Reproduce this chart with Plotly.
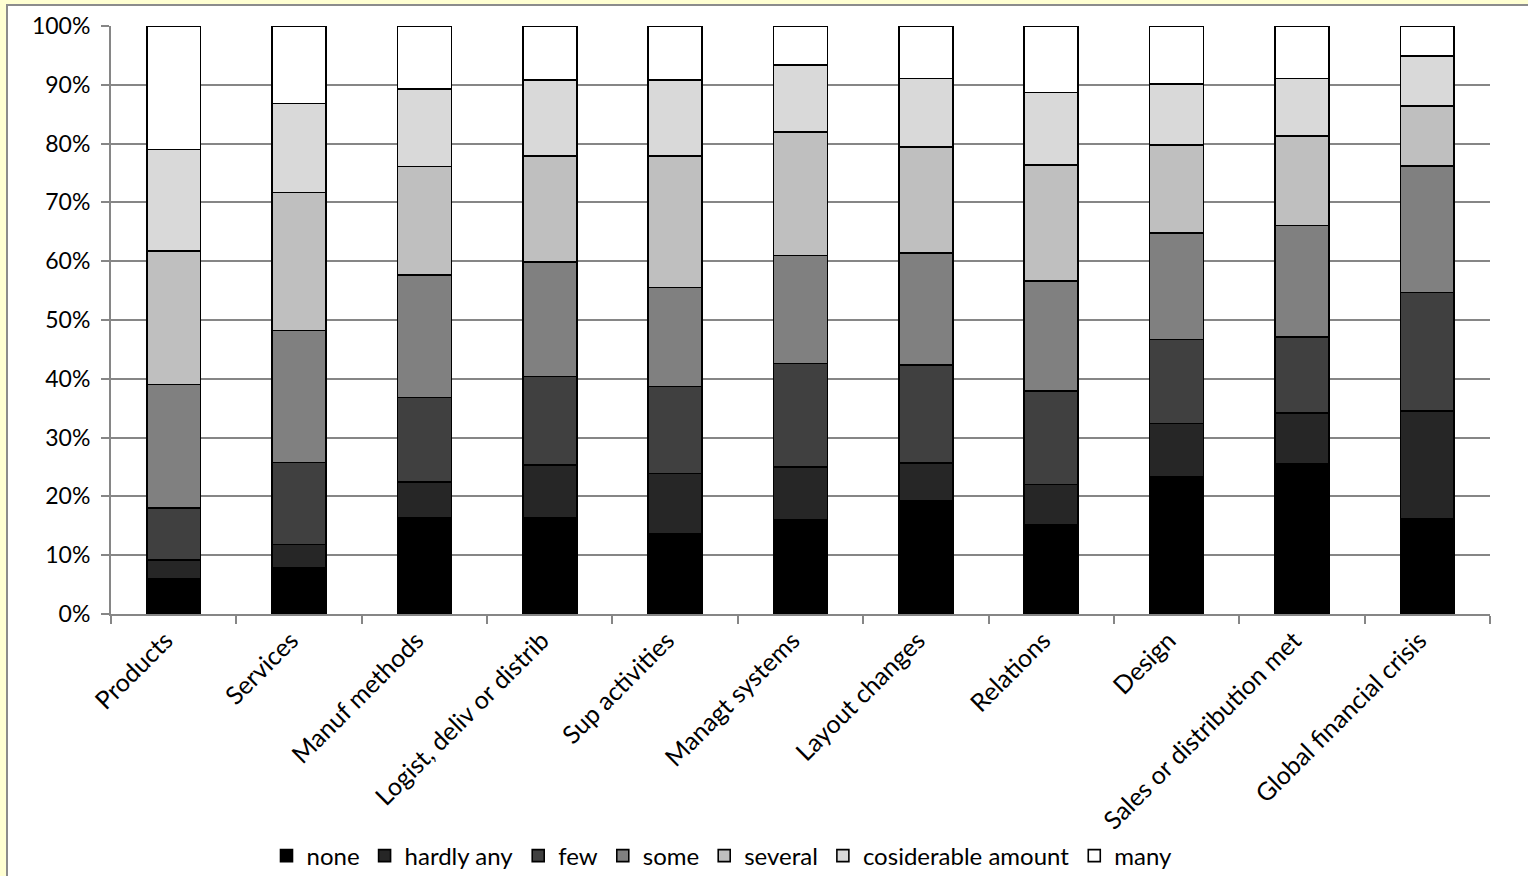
import plotly.graph_objects as go

# Innovation areas (x categories)
categories = [
    "Products", "Services", "Manuf methods", "Logist, deliv or distrib",
    "Sup activities", "Managt systems", "Layout changes", "Relations",
    "Design", "Sales or distribution met", "Global financial crisis",
]

# Share of responses per level, in percent (each category sums to ~100)
none_vals = [6.0, 7.8, 16.3, 16.3, 13.7, 16.0, 19.2, 15.2, 23.4, 25.5, 16.2]
hardly_any = [3.2, 4.0, 6.1, 9.0, 10.2, 9.0, 6.5, 6.8, 9.0, 8.7, 18.3]
few = [8.8, 14.0, 14.4, 15.1, 14.8, 17.6, 16.6, 15.9, 14.3, 12.9, 20.2]
some = [21.0, 22.4, 20.9, 19.5, 16.8, 18.4, 19.1, 18.7, 18.1, 19.0, 21.5]
several = [22.7, 23.5, 18.4, 18.0, 22.4, 21.0, 18.0, 19.8, 15.0, 15.2, 10.2]
considerable = [17.3, 15.1, 13.2, 12.9, 12.9, 11.4, 11.7, 12.3, 10.3, 9.8, 8.5]
many = [21.0, 13.2, 10.7, 9.2, 9.2, 6.6, 8.9, 11.3, 9.9, 8.9, 5.1]

series_names = ["none", "hardly any", "few", "some", "several",
                "cosiderable amount", "many"]
series_values = [none_vals, hardly_any, few, some, several, considerable, many]
series_colors = ["#000000", "#262626", "#404040", "#808080", "#bfbfbf",
                 "#d9d9d9", "#ffffff"]

y_ticks = list(range(0, 101, 10))
y_tick_labels = [f"{t}%" for t in y_ticks]

FONT = "Lato"
W, H = 1528, 876
ML, MR, MT, MB = 111, 38, 26, 262
pw, ph = W - ML - MR, H - MT - MB


def px_x(p):
    return (p - ML) / pw


def px_y(p):
    return (H - MB - p) / ph


fig = go.Figure()
for name, vals, col in zip(series_names, series_values, series_colors):
    fig.add_trace(go.Bar(
        x=categories, y=vals, name=name,
        marker=dict(color=col, line=dict(color="#000000", width=1.6)),
    ))

# white chart panel with a grey frame over the pale yellow page
fig.add_shape(
    type="rect", xref="paper", yref="paper", layer="below",
    x0=px_x(7), x1=px_x(1700), y0=px_y(1000), y1=px_y(5),
    fillcolor="#ffffff", line=dict(color="#8c8c8c", width=2),
)

fig.update_layout(
    width=W, height=H,
    margin=dict(l=ML, r=MR, t=MT, b=MB, pad=0, autoexpand=False),
    paper_bgcolor="#ffffd2",
    plot_bgcolor="#ffffff",
    barmode="stack",
    bargap=0.57,
    font=dict(family=FONT, size=23, color="#000000"),
    showlegend=True,
    legend=dict(
        orientation="h", traceorder="normal",
        x=px_x(722), xanchor="center",
        y=px_y(856), yanchor="middle",
        font=dict(family=FONT, size=24, color="#000000"),
        bgcolor="rgba(0,0,0,0)", itemwidth=30,
    ),
    xaxis=dict(
        type="category", tickangle=-45,
        showline=True, linecolor="#868686", linewidth=2,
        ticks="outside", tickson="boundaries", ticklen=8,
        tickcolor="#868686", tickwidth=2,
        ticklabelstandoff=0, ticklabelshift=-8,
        tickfont=dict(family=FONT, size=25, color="#000000"),
        showgrid=False,
    ),
    yaxis=dict(
        range=[0, 100], tickvals=y_ticks, ticktext=y_tick_labels,
        showline=True, linecolor="#868686", linewidth=2,
        ticks="outside", ticklen=8, tickcolor="#868686", tickwidth=2,
        ticklabelstandoff=6,
        showgrid=True, gridcolor="#868686", gridwidth=2,
        zeroline=False,
        tickfont=dict(family=FONT, size=23, color="#000000"),
    ),
)

fig.write_html("out.html")
